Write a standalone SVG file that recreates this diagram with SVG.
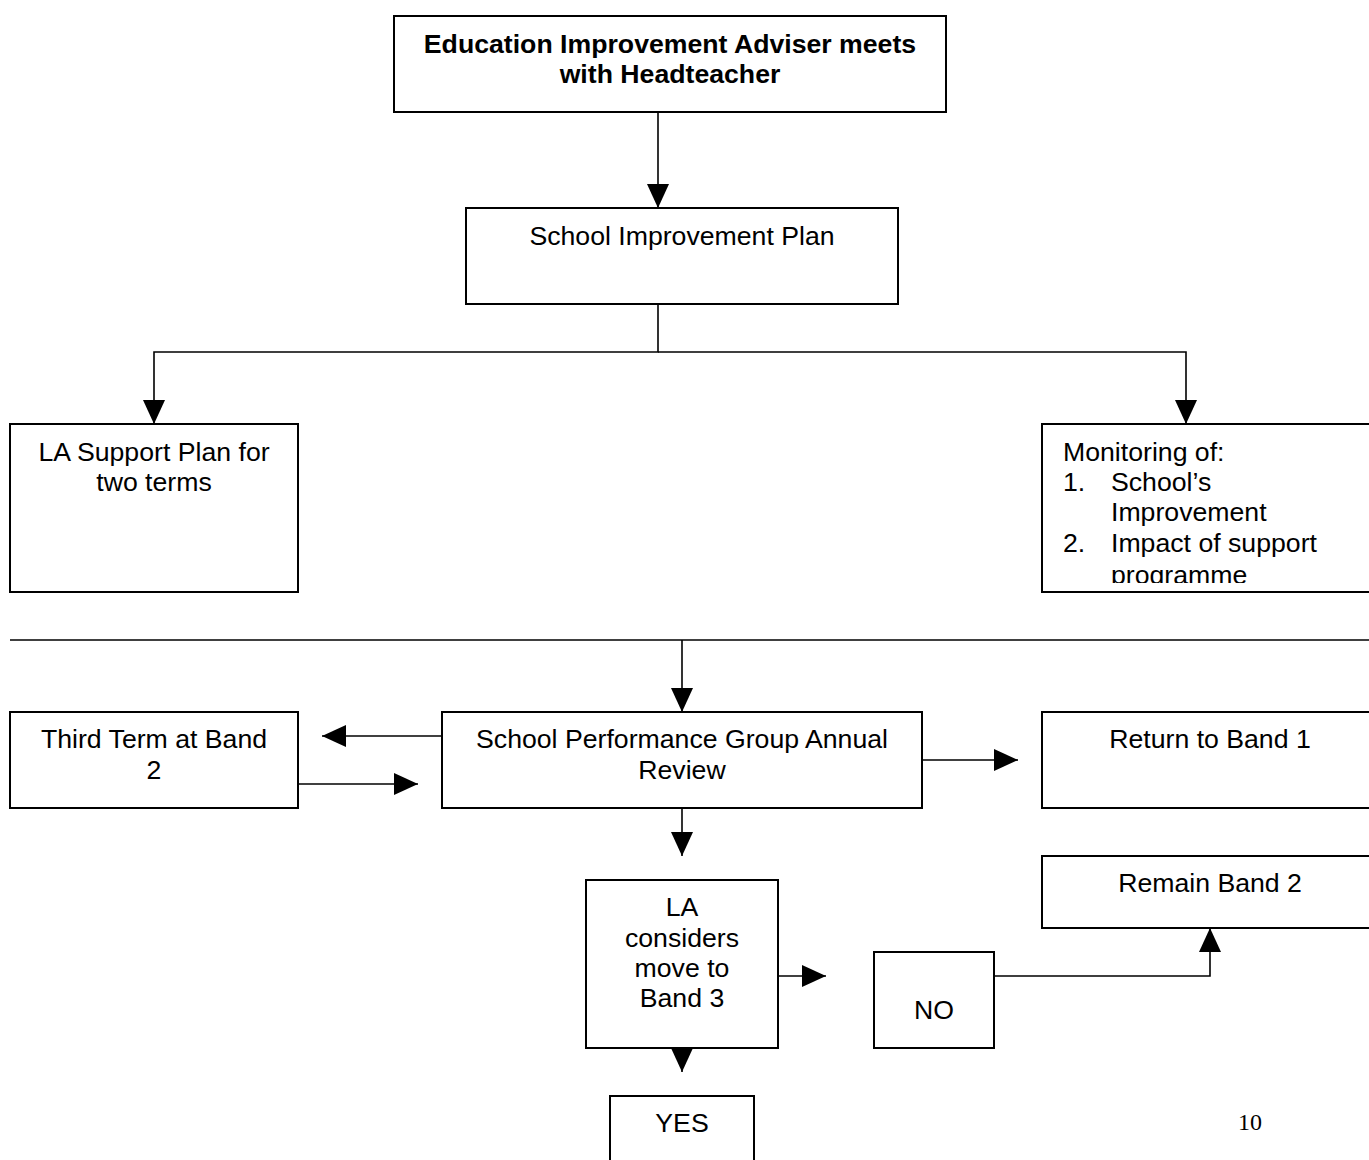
<svg xmlns="http://www.w3.org/2000/svg" width="1369" height="1160" viewBox="0 0 1369 1160">
<style>
.box{fill:#fff;stroke:#000;stroke-width:2}
.t{font-family:"Liberation Sans",Arial,sans-serif;font-size:26.67px;fill:#000}
.c{text-anchor:middle}
.b{font-weight:bold}
.ln{fill:none;stroke:#000;stroke-width:1.6}
</style>
<defs>
<marker id="ah" markerUnits="userSpaceOnUse" markerWidth="24" markerHeight="22" refX="24" refY="11" orient="auto">
<path d="M0,0 L24,11 L0,22 Z" fill="#000"/>
</marker>
<clipPath id="mclip"><rect x="1042" y="424" width="327" height="159"/></clipPath>
</defs>
<rect width="1369" height="1160" fill="#fff"/>
<g id="connectors">
<line class="ln" x1="658" y1="112" x2="658" y2="208" marker-end="url(#ah)"/>
<polyline class="ln" points="658,304 658,352 154,352 154,424" marker-end="url(#ah)"/>
<polyline class="ln" points="658,352 1186,352 1186,424" marker-end="url(#ah)"/>
<line class="ln" x1="10" y1="640" x2="1369" y2="640"/>
<line class="ln" x1="682" y1="640" x2="682" y2="712" marker-end="url(#ah)"/>
<line class="ln" x1="442" y1="736" x2="322" y2="736" marker-end="url(#ah)"/>
<line class="ln" x1="298" y1="784" x2="418" y2="784" marker-end="url(#ah)"/>
<line class="ln" x1="922" y1="760" x2="1018" y2="760" marker-end="url(#ah)"/>
<line class="ln" x1="682" y1="808" x2="682" y2="856" marker-end="url(#ah)"/>
<line class="ln" x1="778" y1="976" x2="826" y2="976" marker-end="url(#ah)"/>
<polyline class="ln" points="994,976 1210,976 1210,928" marker-end="url(#ah)"/>
<line class="ln" x1="682" y1="1048" x2="682" y2="1072" marker-end="url(#ah)"/>
</g>
<g id="n-eia">
<rect class="box" x="394" y="16" width="552" height="96"/>
<text class="t c b" x="670" y="53">Education Improvement Adviser meets</text>
<text class="t c b" x="670" y="83">with Headteacher</text>
</g>
<g id="n-sip">
<rect class="box" x="466" y="208" width="432" height="96"/>
<text class="t c" x="682" y="245">School Improvement Plan</text>
</g>
<g id="n-lasp">
<rect class="box" x="10" y="424" width="288" height="168"/>
<text class="t c" x="154" y="461">LA Support Plan for</text>
<text class="t c" x="154" y="491">two terms</text>
</g>
<g id="n-mon">
<rect class="box" x="1042" y="424" width="340" height="168"/>
<g clip-path="url(#mclip)">
<text class="t" x="1063" y="461">Monitoring of:</text>
<text class="t" x="1063" y="491">1.</text>
<text class="t" x="1111" y="491">School’s</text>
<text class="t" x="1111" y="521">Improvement</text>
<text class="t" x="1063" y="552">2.</text>
<text class="t" x="1111" y="552">Impact of support</text>
<text class="t" x="1111" y="584">programme</text>
</g>
</g>
<g id="n-third">
<rect class="box" x="10" y="712" width="288" height="96"/>
<text class="t c" x="154" y="748">Third Term at Band</text>
<text class="t c" x="154" y="779">2</text>
</g>
<g id="n-spg">
<rect class="box" x="442" y="712" width="480" height="96"/>
<text class="t c" x="682" y="748">School Performance Group Annual</text>
<text class="t c" x="682" y="779">Review</text>
</g>
<g id="n-ret">
<rect class="box" x="1042" y="712" width="340" height="96"/>
<text class="t c" x="1210" y="748">Return to Band 1</text>
</g>
<g id="n-remain">
<rect class="box" x="1042" y="856" width="340" height="72"/>
<text class="t c" x="1210" y="892">Remain Band 2</text>
</g>
<g id="n-la">
<rect class="box" x="586" y="880" width="192" height="168"/>
<text class="t c" x="682" y="916">LA</text>
<text class="t c" x="682" y="947">considers</text>
<text class="t c" x="682" y="977">move to</text>
<text class="t c" x="682" y="1007">Band 3</text>
</g>
<g id="n-no">
<rect class="box" x="874" y="952" width="120" height="96"/>
<text class="t c" x="934" y="1019">NO</text>
</g>
<g id="n-yes">
<rect class="box" x="610" y="1096" width="144" height="80"/>
<text class="t c" x="682" y="1132">YES</text>
</g>
<text x="1250" y="1130" font-family="'Liberation Serif','Times New Roman',serif" font-size="24" text-anchor="middle">10</text>
</svg>
